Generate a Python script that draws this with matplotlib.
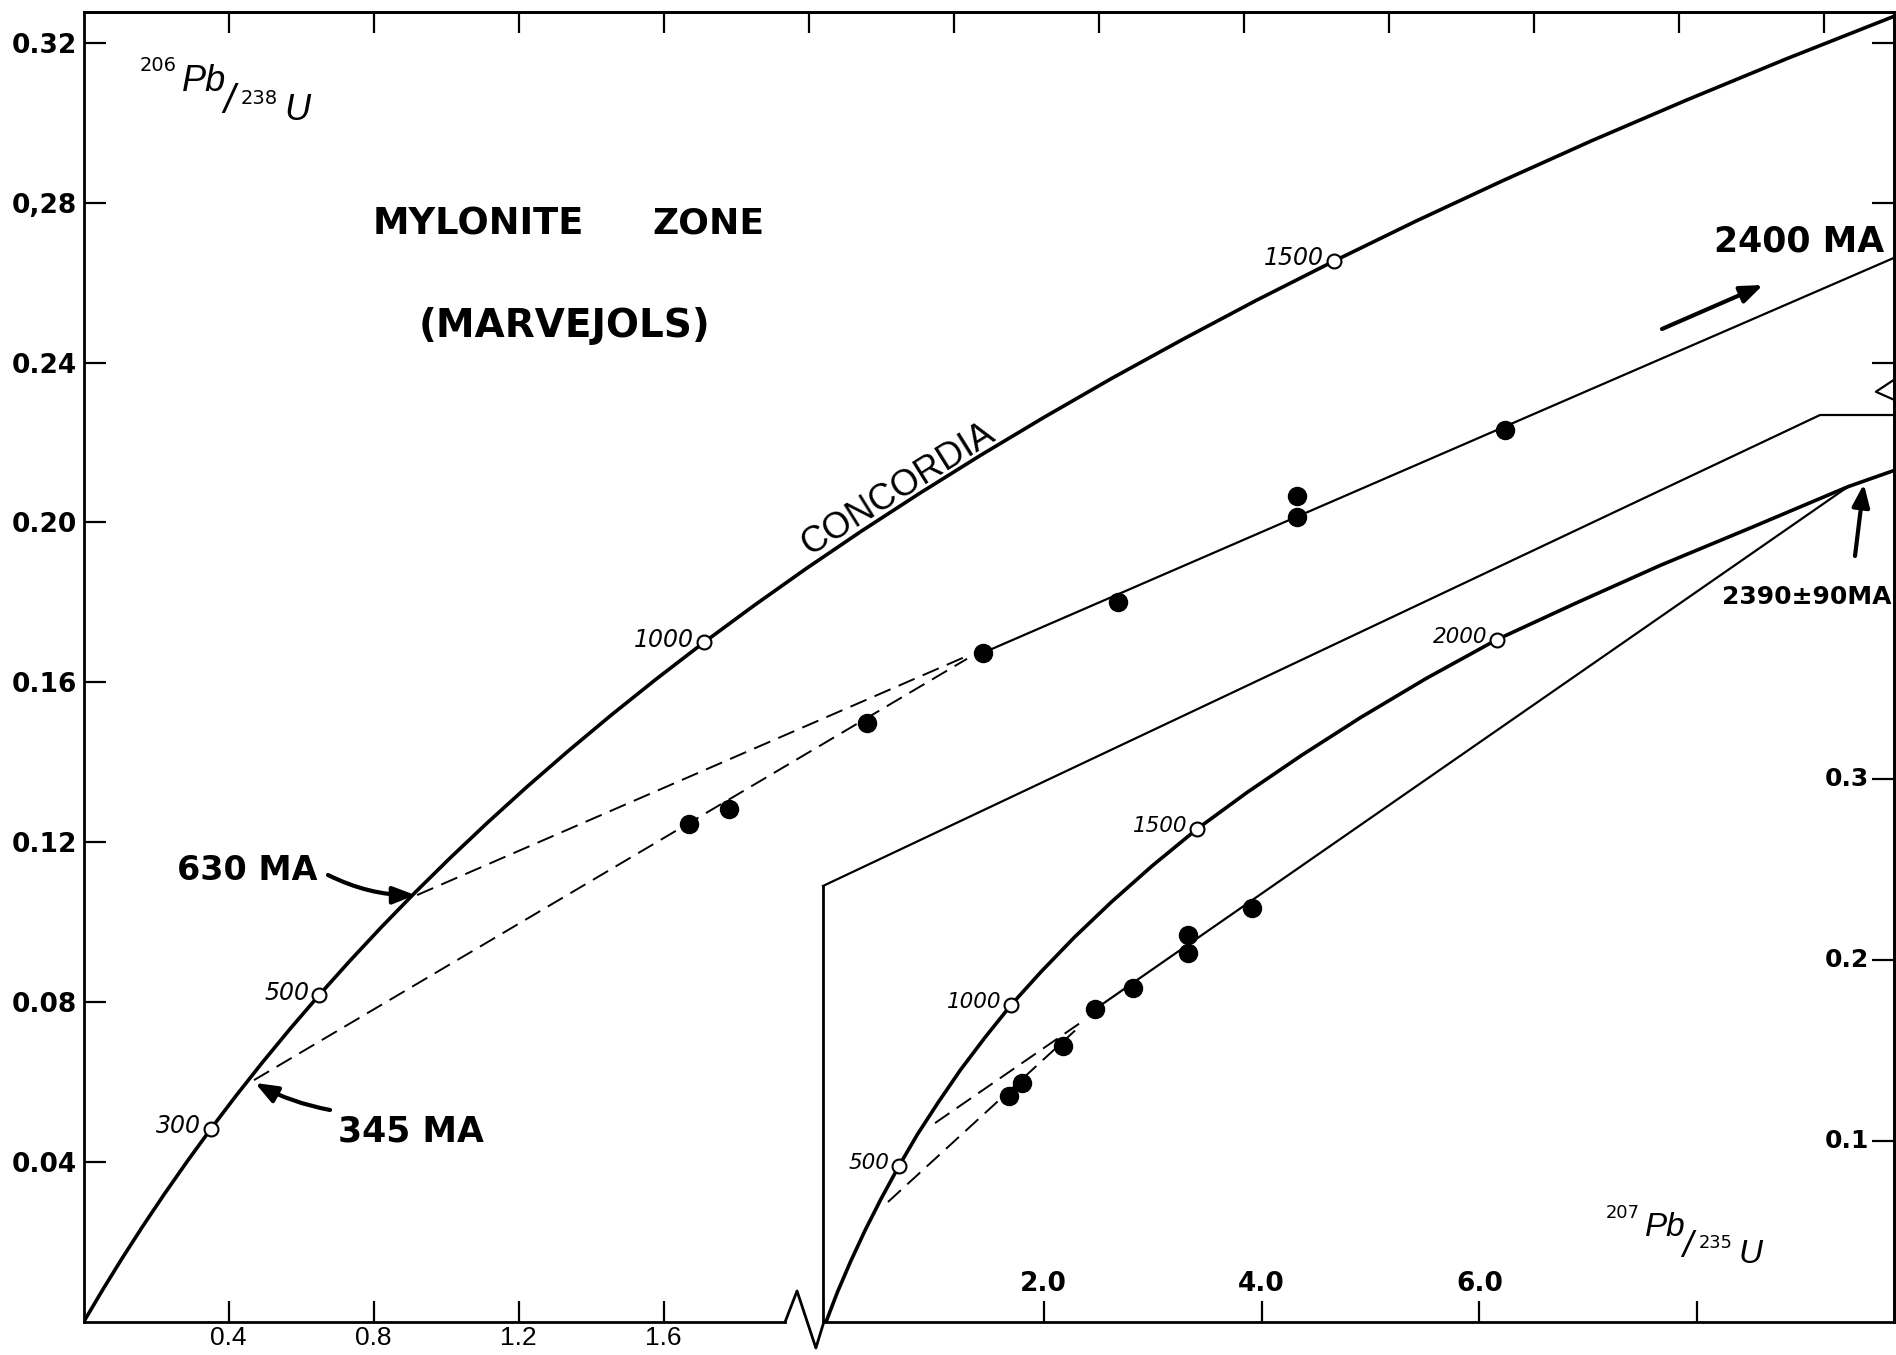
import matplotlib
matplotlib.use("Agg")
import matplotlib.pyplot as plt
import numpy as np

W, H = 1896, 1355

# ---- concordia, main diagram (207Pb/235U vs 206Pb/238U), read every 50 Ma
main_conc_age = [0, 50, 100, 150, 200, 250, 300, 350, 400, 450, 500, 550,
                 600, 650, 700, 750, 800, 850, 900, 950, 1000, 1050, 1100,
                 1150, 1200, 1250, 1300, 1350, 1400, 1450, 1500, 1550, 1600,
                 1650, 1700, 1750, 1800, 1850, 1900]
main_conc_x = [0.0, 0.0515, 0.1056, 0.1624, 0.2221, 0.2848, 0.3506, 0.4198,
               0.4925, 0.5688, 0.6490, 0.7333, 0.8217, 0.9147, 1.0123,
               1.1149, 1.2227, 1.3359, 1.4549, 1.5797, 1.7110, 1.8488,
               1.9936, 2.1457, 2.3056, 2.4734, 2.6498, 2.8349, 3.0297,
               3.2339, 3.4490, 3.6742, 3.9114, 4.1600, 4.4216, 4.6961,
               4.9847, 5.2877, 5.6060]
main_conc_y = [0.0, 0.00789, 0.01584, 0.02385, 0.03192, 0.04006, 0.04826,
               0.05652, 0.06485, 0.07324, 0.08170, 0.09022, 0.09881,
               0.10747, 0.11619, 0.12498, 0.13385, 0.14277, 0.15178,
               0.16084, 0.16999, 0.17919, 0.18849, 0.19784, 0.20726,
               0.21676, 0.22633, 0.23599, 0.24569, 0.25552, 0.26538,
               0.27534, 0.28536, 0.29549, 0.30566, 0.31594, 0.32629,
               0.33672, 0.34724]
main_age_marks = [300, 500, 1000, 1500]

# ---- concordia, inset diagram
inset_conc_age = [0, 100, 200, 300, 400, 500, 600, 700, 800, 900, 1000,
                  1100, 1200, 1300, 1400, 1500, 1600, 1700, 1800, 1900,
                  2000, 2100, 2200, 2300, 2390, 2440]
inset_conc_x = [0.0, 0.105, 0.225, 0.357, 0.505, 0.670, 0.840, 1.030, 1.235,
                1.460, 1.700, 1.975, 2.280, 2.620, 2.995, 3.410, 3.865,
                4.365, 4.910, 5.510, 6.160, 6.880, 7.660, 8.500, 9.385, 9.810]
inset_conc_y = [0.0, 0.0165, 0.0333, 0.0504, 0.0680, 0.0862, 0.1037, 0.1213,
                0.1393, 0.1572, 0.1752, 0.1935, 0.2125, 0.2320, 0.2520,
                0.2725, 0.2925, 0.3130, 0.3340, 0.3555, 0.3770, 0.3970,
                0.4180, 0.4390, 0.4615, 0.4705]
inset_age_marks = [500, 1000, 1500, 2000]

# ---- zircon fractions
main_pt_x = [1.670, 1.781, 2.161, 2.481, 2.854, 3.348, 3.348, 3.921]
main_pt_y = [0.1245, 0.1284, 0.1499, 0.1674, 0.1801, 0.2067, 0.2014, 0.2232]
inset_pt_x = [1.680, 1.797, 2.179, 2.470, 2.822, 3.321, 3.327, 3.909]
inset_pt_y = [0.1249, 0.1322, 0.1525, 0.1728, 0.1844, 0.2138, 0.2037, 0.2286]

# ---- discordia chords
main_disc_x, main_disc_y = [2.481, 4.994], [0.1674, 0.2662]
main_d630_x, main_d630_y = [0.920, 2.437], [0.1068, 0.1666]
main_d345_x, main_d345_y = [0.470, 2.437], [0.0605, 0.1659]
inset_disc_x, inset_disc_y = [2.470, 9.385], [0.1728, 0.4615]
inset_da_x, inset_da_y = [1.001, 2.360], [0.1099, 0.1663]
inset_db_x, inset_db_y = [0.569, 2.332], [0.0663, 0.1635]

ytick_vals = [0.04, 0.08, 0.12, 0.16, 0.20, 0.24, 0.28, 0.32]
ytick_labels = ["0.04", "0.08", "0.12", "0.16", "0.20", "0.24", "0,28", "0.32"]
xtick_vals = [0.4, 0.8, 1.2, 1.6]
xtick_labels = ["0.4", "0.8", "1.2", "1.6"]
top_ticks = [0.4, 0.8, 1.2, 1.6, 2.0, 2.4, 2.8, 3.2, 3.6, 4.0, 4.4, 4.8]
inset_xtick_vals = [2, 4, 6, 8]
inset_xtick_labels = ["2.0", "4.0", "6.0", ""]
inset_ytick_vals = [0.1, 0.2, 0.3]
inset_ytick_labels = ["0.1", "0.2", "0.3"]

SANS = ["Liberation Sans", "DejaVu Sans"]
NARROW = ["Liberation Sans Narrow", "Liberation Sans", "DejaVu Sans"]
LW_AX = 2.0
DASH = (9, 4.5)

fig = plt.figure(figsize=(W / 100, H / 100), dpi=100)
ax = fig.add_axes([83.6 / W, (H - 1322) / H, (1894 - 83.6) / W, (1322 - 12) / H])
ax.set_xlim(0, 4.994)
ax.set_ylim(0, 0.3277)
for s in ax.spines.values():
    s.set_linewidth(LW_AX)
ax.spines["bottom"].set_bounds(0, 1.935)

ax.set_yticks(ytick_vals)
ax.set_yticklabels(ytick_labels, fontsize=19, fontweight="bold", family="DejaVu Sans")
ax.set_xticks(xtick_vals)
ax.set_xticklabels(xtick_labels, fontsize=19, family=NARROW)
ax.tick_params(axis="y", direction="in", length=16, width=1.6, pad=5)
ax.tick_params(axis="x", direction="in", length=15, width=1.6, pad=3)

top = ax.secondary_xaxis("top")
top.set_xticks(top_ticks)
top.tick_params(direction="in", length=15, width=1.6, labeltop=False)
top.spines["top"].set_linewidth(LW_AX)
right = ax.secondary_yaxis("right")
right.set_yticks([0.24, 0.28, 0.32])
right.tick_params(direction="in", length=16, width=1.6, labelright=False)
right.spines["right"].set_linewidth(LW_AX)

# axis break on the bottom spine and the right spine
ax.plot([1.935, 1.968, 2.020, 2.042], [0, 0.00776, -0.0065, 0], color="k",
        lw=LW_AX, clip_on=False)
ax.plot([4.994, 4.944, 4.994], [0.2357, 0.2327, 0.2307], color="k", lw=1.6,
        clip_on=False)

# main diagram
ax.plot(main_conc_x, main_conc_y, color="k", lw=2.6)
ax.plot(main_disc_x, main_disc_y, color="k", lw=1.6)
ax.plot(main_d630_x, main_d630_y, color="k", lw=1.4, dashes=DASH)
ax.plot(main_d345_x, main_d345_y, color="k", lw=1.4, dashes=DASH)
ax.plot(main_pt_x, main_pt_y, "o", color="k", ms=13, ls="none", zorder=4)
for age in main_age_marks:
    i = main_conc_age.index(age)
    ax.plot(main_conc_x[i], main_conc_y[i], "o", mfc="white", mec="k", ms=10,
            mew=1.5, zorder=5)
    ax.annotate(str(age), (main_conc_x[i], main_conc_y[i]), xytext=(-7, 2),
                textcoords="offset points", ha="right", va="center",
                fontsize=17, style="italic", family="DejaVu Sans")

ax.text(2.271, 0.2045, "CONCORDIA", rotation=32, rotation_mode="anchor",
        ha="center", va="bottom", fontsize=26, family=SANS)

# inset diagram
ax_in = fig.add_axes([823 / W, (H - 1322) / H, (1894 - 823) / W, (1322 - 415) / H])
ax_in.set_xlim(-0.0275, 9.807)
ax_in.set_ylim(0, 0.5011)
ax_in.patch.set_alpha(0)
ax_in.spines["top"].set_visible(False)
ax_in.spines["right"].set_visible(False)
ax_in.spines["left"].set_bounds(0, 0.2409)
ax_in.spines["left"].set_linewidth(LW_AX)
ax_in.spines["bottom"].set_linewidth(LW_AX)
ax_in.set_xticks(inset_xtick_vals)
ax_in.set_yticks(inset_ytick_vals)
ax_in.tick_params(axis="x", direction="in", length=15, width=1.6, labelbottom=False)
ax_in.tick_params(axis="y", left=False, right=True, direction="in", length=16,
                  width=1.6, labelleft=False, labelright=False)
for v, lab in zip(inset_xtick_vals, inset_xtick_labels):
    ax_in.annotate(lab, (v, 0), xycoords=("data", "axes fraction"),
                   xytext=(0, 18), textcoords="offset points", ha="center",
                   va="bottom", fontsize=19, fontweight="bold", family="DejaVu Sans")
for v, lab in zip(inset_ytick_vals, inset_ytick_labels):
    ax_in.annotate(lab, (1, v), xycoords=("axes fraction", "data"),
                   xytext=(-18, 0), textcoords="offset points", ha="right",
                   va="center", fontsize=18, fontweight="bold", family="DejaVu Sans")

# callout outline of the inset
ax_in.plot([-0.0275, 9.128, 9.807], [0.2409, 0.5011, 0.5011], color="k",
           lw=1.6, clip_on=False)

ax_in.plot(inset_conc_x, inset_conc_y, color="k", lw=2.6)
ax_in.plot(inset_disc_x, inset_disc_y, color="k", lw=1.6)
ax_in.plot(inset_da_x, inset_da_y, color="k", lw=1.4, dashes=DASH)
ax_in.plot(inset_db_x, inset_db_y, color="k", lw=1.4, dashes=DASH)
ax_in.plot(inset_pt_x, inset_pt_y, "o", color="k", ms=13, ls="none", zorder=4)
for age in inset_age_marks:
    i = inset_conc_age.index(age)
    ax_in.plot(inset_conc_x[i], inset_conc_y[i], "o", mfc="white", mec="k",
               ms=10, mew=1.5, zorder=5)
    ax_in.annotate(str(age), (inset_conc_x[i], inset_conc_y[i]), xytext=(-7, 2),
                   textcoords="offset points", ha="right", va="center",
                   fontsize=15.5, style="italic", family="DejaVu Sans")

# titles and labels
fig.text(478 / W, 1 - 224 / H, "MYLONITE", ha="center", va="center",
         fontsize=26.5, fontweight="bold", family="DejaVu Sans")
fig.text(708 / W, 1 - 224 / H, "ZONE", ha="center", va="center",
         fontsize=26, fontweight="bold", family="DejaVu Sans")
fig.text(564 / W, 1 - 326 / H, "(MARVEJOLS)", ha="center", va="center",
         fontsize=28, fontweight="bold", family="DejaVu Sans")


def ratio_label(x0, y0, top_iso, bot_iso, big1, big2, scale=1.0):
    # stepped isotope ratio label, positions in figure pixels from top-left
    fig.text(x0 / W, 1 - y0 / H, top_iso, fontsize=14 * scale,
             family="DejaVu Sans", va="baseline")
    fig.text((x0 + 42 * scale) / W, 1 - (y0 + 20 * scale) / H, big1,
             fontsize=26 * scale, style="italic", family=SANS, va="baseline")
    fig.text((x0 + 83 * scale) / W, 1 - (y0 + 42 * scale) / H, "/",
             fontsize=29 * scale, style="italic", family=SANS, va="baseline")
    fig.text((x0 + 101 * scale) / W, 1 - (y0 + 33 * scale) / H, bot_iso,
             fontsize=14 * scale, family="DejaVu Sans", va="baseline")
    fig.text((x0 + 144 * scale) / W, 1 - (y0 + 49 * scale) / H, big2,
             fontsize=26 * scale, style="italic", family=SANS, va="baseline")


ratio_label(140, 71, "206", "238", "Pb", "U")
ratio_label(1606, 1218, "207", "235", "Pb", "U", scale=0.92)

arrow = dict(arrowstyle="-|>,head_length=0.9,head_width=0.35", color="k",
             lw=3, mutation_scale=15, shrinkA=0, shrinkB=0)

fig.text(247 / W, 1 - 870 / H, "630 MA", ha="center", va="center",
         fontsize=24, fontweight="bold", family="DejaVu Sans")
ax.annotate("", xy=(0.915, 0.1068), xytext=(328, H - 875),
            textcoords="figure pixels",
            arrowprops=dict(arrow, connectionstyle="arc3,rad=0.12"))

fig.text(411 / W, 1 - 1132 / H, "345 MA", ha="center", va="center",
         fontsize=25, fontweight="bold", family="DejaVu Sans")
ax.annotate("", xy=(0.473, 0.0598), xytext=(330, H - 1110),
            textcoords="figure pixels",
            arrowprops=dict(arrow, connectionstyle="arc3,rad=-0.08"))

fig.text(1884 / W, 1 - 242 / H, "2400 MA", ha="right", va="center",
         fontsize=25, fontweight="bold", family="DejaVu Sans")
ax.annotate("", xy=(1763, H - 285), xycoords="figure pixels",
            xytext=(1662, H - 329), textcoords="figure pixels",
            arrowprops=dict(arrow, connectionstyle="arc3,rad=0"))

fig.text(1891 / W, 1 - 597 / H, "2390\u00b190MA", ha="right", va="center",
         fontsize=18, fontweight="bold", family="DejaVu Sans")
ax_in.annotate("", xy=(9.53, 0.463), xytext=(1855, H - 556),
               textcoords="figure pixels",
               arrowprops=dict(arrow, connectionstyle="arc3,rad=0"))

fig.savefig("out.png", dpi=100)
